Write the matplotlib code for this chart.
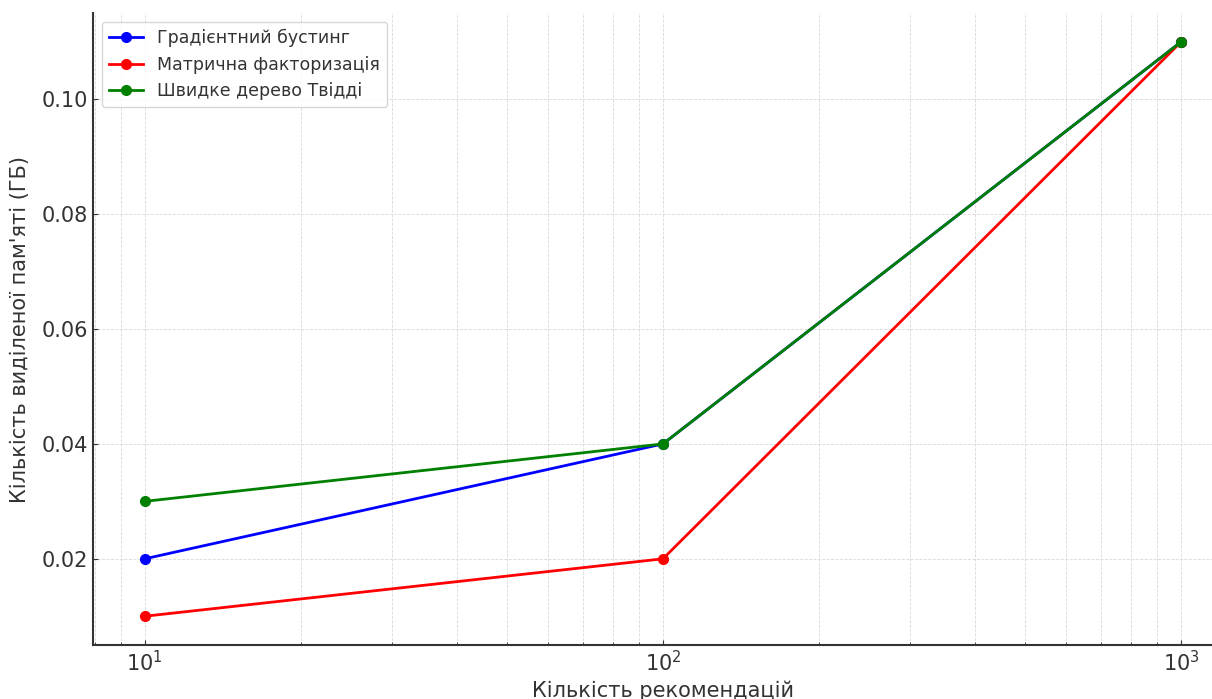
import matplotlib.pyplot as plt

# Data
recommendations = [10, 100, 1000]
gradient_boosting = [0.02, 0.04, 0.11]
matrix_factorization = [0.01, 0.02, 0.11]
fast_tweedie_tree = [0.03, 0.04, 0.11]

series_labels = ["Градієнтний бустинг", "Матрична факторизація", "Швидке дерево Твідді"]
series_colors = ["blue", "red", "green"]

text_color = "#333333"
plt.rcParams['font.family'] = ['DejaVu Sans']

fig = plt.figure(figsize=(12.12, 6.99), dpi=100)
ax = fig.add_axes([0.0767, 0.0773, 0.9406, 0.904])

for values, label, color in zip([gradient_boosting, matrix_factorization, fast_tweedie_tree],
                                series_labels, series_colors):
    ax.plot(recommendations, values, marker='o', color=color, label=label,
            linewidth=2, markersize=7)

ax.set_xscale('log')
ax.set_xlabel("Кількість рекомендацій", fontsize=15, color=text_color)
ax.set_ylabel("Кількість виділеної пам'яті (ГБ)", fontsize=15, color=text_color, labelpad=8)
ax.set_yticks([0.02, 0.04, 0.06, 0.08, 0.10])
ax.yaxis.set_major_formatter(plt.FormatStrFormatter('%.2f'))

ax.tick_params(axis='both', which='both', direction='in', labelsize=15,
               labelcolor=text_color, color=text_color)
ax.grid(True, which='both', linestyle='--', linewidth=0.6, color='#d9d9d9')
ax.spines['top'].set_visible(False)
ax.spines['right'].set_visible(False)
for side in ['left', 'bottom']:
    ax.spines[side].set_color(text_color)
    ax.spines[side].set_linewidth(1.5)

leg = ax.legend(loc='upper left', fontsize=12.5, frameon=True)
for t in leg.get_texts():
    t.set_color(text_color)

fig.savefig("out.png", dpi=100)
